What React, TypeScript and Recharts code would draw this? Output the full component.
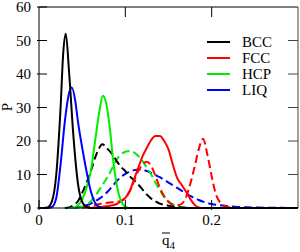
import { LineChart, Line, XAxis, YAxis, ReferenceLine } from 'recharts';

// q4 bar value, probability P
const bccSolid = [
  [0.005, 0], [0.01, 0.2], [0.015, 2], [0.02, 10], [0.025, 30], [0.028, 46], [0.031, 52],
  [0.035, 40], [0.04, 21], [0.045, 7.5], [0.05, 1.8], [0.055, 0.3], [0.06, 0], [0.3, 0],
];
const fccSolid = [
  [0.06, 0], [0.07, 0.3], [0.08, 0.6], [0.09, 1.2], [0.095, 2], [0.1, 3], [0.105, 5],
  [0.11, 8.5], [0.115, 12], [0.12, 15.5], [0.125, 18], [0.13, 20.3], [0.135, 21.5],
  [0.14, 21.5], [0.145, 20], [0.15, 17.5], [0.155, 13], [0.16, 9], [0.165, 7], [0.17, 5],
  [0.175, 2.8], [0.18, 1], [0.185, 0.2], [0.19, 0], [0.3, 0],
];
const hcpSolid = [
  [0.035, 0], [0.04, 0.1], [0.045, 0.8], [0.05, 2.5], [0.055, 6], [0.06, 11], [0.065, 20],
  [0.07, 29], [0.074, 33.5], [0.078, 31], [0.082, 24], [0.086, 14], [0.09, 7], [0.095, 2],
  [0.1, 0.4], [0.105, 0], [0.3, 0],
];
const liqSolid = [
  [0, 0], [0.01, 0], [0.015, 0.3], [0.02, 3], [0.025, 13], [0.03, 26], [0.035, 34.5],
  [0.038, 36], [0.042, 32], [0.045, 26], [0.05, 18], [0.055, 11], [0.06, 5], [0.065, 1.5],
  [0.07, 0.3], [0.075, 0], [0.3, 0],
];
const bccDashed = [
  [0.03, 0], [0.035, 0.2], [0.04, 0.8], [0.045, 2], [0.05, 4.5], [0.055, 7.5], [0.06, 11],
  [0.065, 15], [0.07, 18], [0.073, 19], [0.08, 17.5], [0.085, 16], [0.09, 14], [0.095, 12.3],
  [0.1, 11], [0.105, 9.5], [0.11, 8.3], [0.115, 7], [0.12, 5.5], [0.125, 4], [0.13, 2.8],
  [0.135, 2], [0.14, 1.3], [0.145, 1], [0.15, 0.7], [0.16, 0.3], [0.17, 0.1], [0.18, 0],
];
const fccDashed = [
  [0.05, 0], [0.06, 0.5], [0.07, 1.2], [0.08, 1.6], [0.09, 1.8], [0.095, 2.2], [0.1, 3],
  [0.105, 5], [0.11, 8], [0.115, 11], [0.12, 13], [0.125, 13.8], [0.13, 12.5], [0.135, 9.5],
  [0.14, 6], [0.145, 3.5], [0.15, 1.8], [0.155, 1], [0.16, 0.8], [0.165, 1.2], [0.17, 3],
  [0.175, 7], [0.18, 12], [0.185, 17.5], [0.19, 20.7], [0.195, 16], [0.2, 9.5], [0.205, 4],
  [0.21, 1.6], [0.215, 0.6], [0.22, 0.2], [0.23, 0],
];
const hcpDashed = [
  [0.045, 0], [0.05, 0.4], [0.055, 1], [0.06, 2], [0.065, 3.5], [0.07, 5.5], [0.075, 7.5],
  [0.08, 9.5], [0.085, 12], [0.09, 14.5], [0.095, 16], [0.1, 16.8], [0.105, 17], [0.11, 16.6],
  [0.115, 15.5], [0.12, 14], [0.125, 12], [0.13, 10], [0.135, 7.5], [0.14, 5.3], [0.145, 3.3],
  [0.15, 2], [0.155, 1], [0.16, 0.5], [0.17, 0.1], [0.18, 0],
];
const liqDashed = [
  [0.04, 0], [0.05, 0.4], [0.055, 0.8], [0.06, 1.3], [0.065, 2], [0.07, 2.8], [0.075, 3.8],
  [0.08, 5], [0.085, 6.5], [0.09, 8], [0.095, 9.3], [0.1, 10.2], [0.105, 10.9], [0.11, 11.3],
  [0.115, 11.5], [0.12, 11.4], [0.125, 11], [0.13, 10.5], [0.135, 9.8], [0.14, 9.2],
  [0.145, 8.4], [0.15, 7.6], [0.155, 6.8], [0.16, 6], [0.165, 5.2], [0.17, 4.4], [0.175, 3.6],
  [0.18, 3], [0.185, 2.4], [0.19, 1.9], [0.2, 1.2], [0.21, 0.8], [0.22, 0.5], [0.23, 0.3],
  [0.24, 0.2], [0.26, 0.1], [0.28, 0.05], [0.3, 0],
];

const legendNames = ['BCC', 'FCC', 'HCP', 'LIQ'];
const legendColors = ['#000000', '#ff0000', '#00ee00', '#0000ff'];

const X_MAX = 0.3;
const Y_MAX = 60;
const xTicks = [0, 0.1, 0.2];
const xTopTicks = [0.1, 0.2];
const yTicks = [0, 10, 20, 30, 40, 50, 60];
const yRightTicks = [10, 20, 30, 40, 50];

const toRows = (pts: number[][]) => pts.map(([q, p]) => ({ q, p }));

const series = [
  { id: 'liqD', data: liqDashed, color: legendColors[3], dashed: true },
  { id: 'hcpD', data: hcpDashed, color: legendColors[2], dashed: true },
  { id: 'bccD', data: bccDashed, color: legendColors[0], dashed: true },
  { id: 'fccD', data: fccDashed, color: legendColors[1], dashed: true },
  { id: 'fcc', data: fccSolid, color: legendColors[1], dashed: false },
  { id: 'hcp', data: hcpSolid, color: legendColors[2], dashed: false },
  { id: 'liq', data: liqSolid, color: legendColors[3], dashed: false },
  { id: 'bcc', data: bccSolid, color: legendColors[0], dashed: false },
];

const font = '"Liberation Serif", serif';
const TICK_LEN = 10;
// frame tick length in data units (plot is 259 x 201 px)
const TICK_DX = (TICK_LEN / 259) * X_MAX;
const TICK_DY = (TICK_LEN / 201) * Y_MAX;

// inward tick marks + labels, drawn by hand (recharts draws ticks outward)
const BottomTick = ({ x, y, payload }: any) => (
  <g>
    <line x1={x} x2={x} y1={y} y2={y - TICK_LEN} stroke="#000" />
    <text x={x} y={y + 4} dy="0.71em" textAnchor="middle" fontFamily={font} fontSize={15} fill="#000">
      {payload.value}
    </text>
  </g>
);
const LeftTick = ({ x, y, payload }: any) => (
  <g>
    <line x1={x} x2={x + TICK_LEN} y1={y} y2={y} stroke="#000" />
    <text x={x - 6} y={y} dy="0.35em" textAnchor="end" fontFamily={font} fontSize={15} fill="#000">
      {payload.value}
    </text>
  </g>
);

function Overlay() {
  return (
    <>
      <svg
        width={300}
        height={252}
        style={{ position: 'absolute', left: 0, top: 0, pointerEvents: 'none' }}
      >
        <text
          x={7}
          y={107}
          transform="rotate(-90 7 107)"
          textAnchor="middle"
          dominantBaseline="central"
          fontFamily={font}
          fontSize={15}
          fill="#000"
        >
          P
        </text>
        <line x1={162} x2={170} y1={233} y2={233} stroke="#000" />
        <text x={162} y={245} fontFamily={font} fontSize={15} fill="#000">
          q<tspan fontSize={11} dy={4}>4</tspan>
        </text>
      </svg>
      <div
        style={{
          position: 'absolute',
          left: 207,
          top: 34,
          fontFamily: font,
          fontSize: 15,
          color: '#000',
          lineHeight: '16px',
        }}
      >
        {legendNames.map((n, i) => (
          <div key={n} style={{ display: 'flex', alignItems: 'center', height: 16 }}>
            <span style={{ width: 23, height: 2, background: legendColors[i], marginRight: 12 }} />
            <span>{n}</span>
          </div>
        ))}
      </div>
    </>
  );
}

export default function App() {
  return (
    <div style={{ position: 'absolute', left: 0, top: 0, width: 300, height: 252, background: '#fff' }}>
      <LineChart width={300} height={252} margin={{ top: 7, right: 2, left: 0, bottom: 14 }}>
        <XAxis
          dataKey="q"
          type="number"
          domain={[0, X_MAX]}
          ticks={xTicks}
          interval={0}
          height={30}
          tickSize={0}
          tickLine={false}
          tick={BottomTick}
          stroke="#000"
        />
        <YAxis
          type="number"
          domain={[0, Y_MAX]}
          ticks={yTicks}
          interval={0}
          width={39}
          tickSize={0}
          tickLine={false}
          tick={LeftTick}
          stroke="#000"
        />
        <ReferenceLine y={Y_MAX} stroke="#000" />
        <ReferenceLine x={X_MAX} stroke="#444" />
        {xTopTicks.map((t) => (
          <ReferenceLine
            key={'t' + t}
            segment={[{ x: t, y: Y_MAX }, { x: t, y: Y_MAX - TICK_DY }]}
            stroke="#000"
          />
        ))}
        {yRightTicks.map((t) => (
          <ReferenceLine
            key={'r' + t}
            segment={[{ x: X_MAX, y: t }, { x: X_MAX - TICK_DX, y: t }]}
            stroke="#444"
          />
        ))}
        {series.map((s) => (
          <Line
            key={s.id}
            data={toRows(s.data)}
            dataKey="p"
            type="monotone"
            stroke={s.color}
            strokeWidth={2}
            strokeDasharray={s.dashed ? '8 4' : undefined}
            dot={false}
            activeDot={false}
            isAnimationActive={false}
          />
        ))}
      </LineChart>
      <Overlay />
    </div>
  );
}
